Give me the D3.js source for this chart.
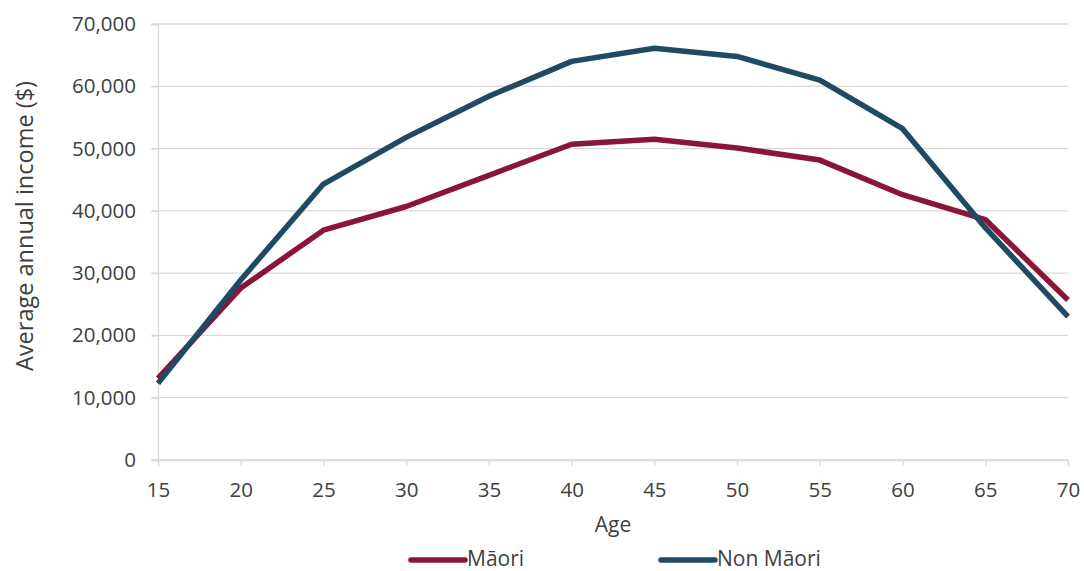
<!DOCTYPE html>
<html>
<head>
<meta charset="utf-8">
<script src="https://cdn.jsdelivr.net/npm/d3@7"></script>
<style>
  html, body { margin: 0; padding: 0; background: #fff; }
  svg text { font-family: "Open Sans", "Liberation Sans", sans-serif; fill: #404040; }
</style>
</head>
<body>
<svg id="chart" width="1084" height="571"></svg>
<script>
// Average annual income by age
const ages = [15, 20, 25, 30, 35, 40, 45, 50, 55, 60, 65, 70];
const maori = [13100, 27600, 36900, 40700, 45700, 50700, 51500, 50100, 48150, 42600, 38600, 25700];
const nonMaori = [12300, 28900, 44300, 51800, 58400, 64000, 66100, 64800, 61000, 53200, 37300, 23000];
const yTicks = [0, 10000, 20000, 30000, 40000, 50000, 60000, 70000];
const seriesNames = ["Māori", "Non Māori"];
const seriesColors = ["#8a1538", "#1f4a63"];

const svg = d3.select("#chart");
const margin = { left: 158, right: 16, top: 24, bottom: 111 };
const W = 1084, H = 571;

const x = d3.scaleLinear().domain([15, 70]).range([margin.left, W - margin.right]);
const y = d3.scaleLinear().domain([0, 70000]).range([H - margin.bottom, margin.top]);

const gridColor = "#d9d9d9";

// horizontal gridlines
svg.append("g")
  .selectAll("line")
  .data(yTicks)
  .join("line")
  .attr("x1", margin.left - 6)
  .attr("x2", W - margin.right)
  .attr("y1", d => y(d))
  .attr("y2", d => y(d))
  .attr("stroke", gridColor)
  .attr("stroke-width", 1.3);

// y axis
const yAxis = svg.append("g")
  .attr("transform", `translate(${margin.left},0)`)
  .call(d3.axisLeft(y).tickValues(yTicks).tickFormat(d3.format(",")).tickSize(7).tickPadding(15));
yAxis.select(".domain").attr("stroke", gridColor).attr("stroke-width", 1.3);
yAxis.selectAll(".tick line").attr("stroke", gridColor).attr("stroke-width", 1.3);
yAxis.selectAll("text").style("font-size", "20.5px").attr("fill", "#404040");

// x axis
const xAxis = svg.append("g")
  .attr("transform", `translate(0,${y(0)})`)
  .call(d3.axisBottom(x).tickValues(ages).tickSize(6).tickPadding(16));
xAxis.select(".domain").attr("stroke", gridColor).attr("stroke-width", 1.3);
xAxis.selectAll(".tick line").attr("stroke", gridColor).attr("stroke-width", 1.3);
xAxis.selectAll("text").style("font-size", "20.5px").attr("fill", "#404040");

// axis titles
svg.append("text")
  .attr("x", (margin.left + W - margin.right) / 2)
  .attr("y", 532)
  .attr("text-anchor", "middle")
  .style("font-size", "21px")
  .text("Age");

svg.append("text")
  .attr("transform", "translate(33,226) rotate(-90)")
  .attr("text-anchor", "middle")
  .style("font-size", "23.5px")
  .text("Average annual income ($)");

// lines
const line = d3.line()
  .x((d, i) => x(ages[i]))
  .y(d => y(d));

[maori, nonMaori].forEach((vals, i) => {
  svg.append("path")
    .datum(vals)
    .attr("d", line)
    .attr("fill", "none")
    .attr("stroke", seriesColors[i])
    .attr("stroke-width", 5.5)
    .attr("stroke-linejoin", "round");
});

// legend
const legendX = [411, 661];
seriesNames.forEach((name, i) => {
  const g = svg.append("g").attr("transform", `translate(${legendX[i]},560)`);
  g.append("line")
    .attr("x1", 0).attr("x2", 54)
    .attr("y1", 0).attr("y2", 0)
    .attr("stroke", seriesColors[i])
    .attr("stroke-width", 5.5)
    .attr("stroke-linecap", "round");
  g.append("text")
    .attr("x", 56)
    .attr("y", 6)
    .style("font-size", "21px")
    .text(name);
});
</script>
</body>
</html>
